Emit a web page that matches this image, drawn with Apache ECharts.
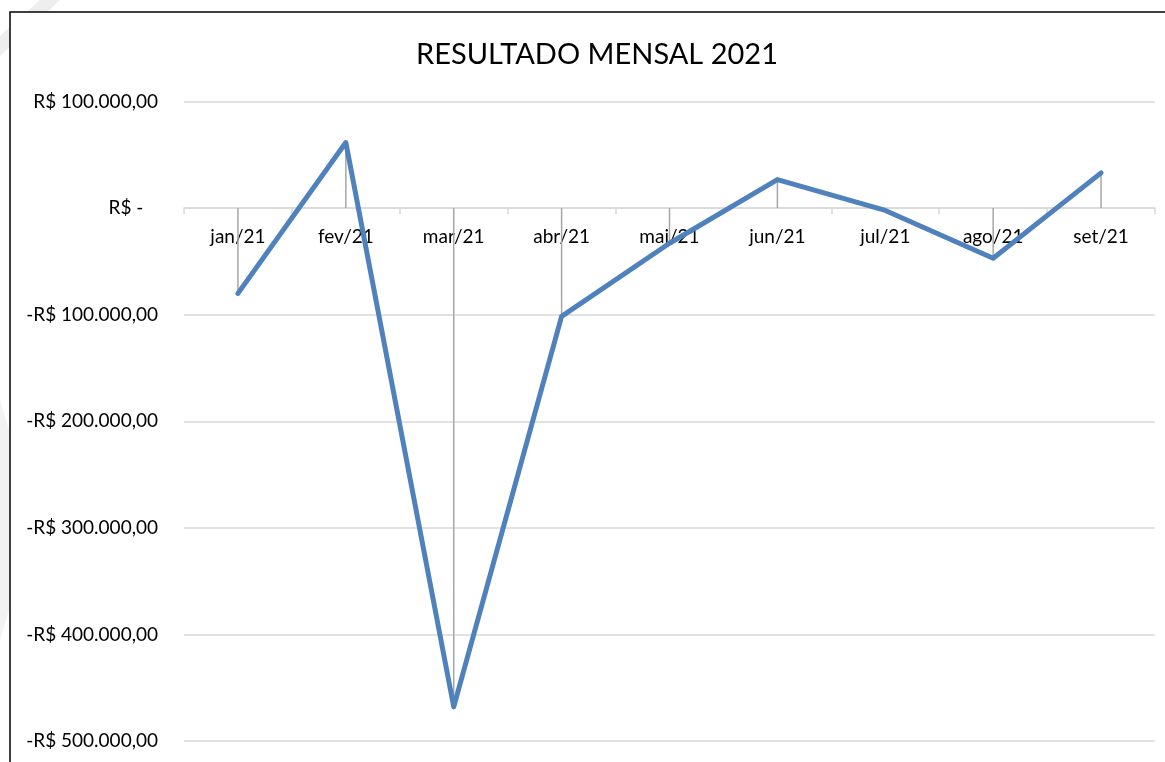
<!DOCTYPE html>
<html>
<head>
<meta charset="utf-8">
<title>Resultado Mensal 2021</title>
<script src="https://cdn.jsdelivr.net/npm/echarts@6/dist/echarts.min.js"></script>
<style>
  html, body { margin: 0; padding: 0; background: #fff; }
  #chart { width: 1165px; height: 762px; }
</style>
</head>
<body>
<div id="chart"></div>
<script>
const months = ['jan/21', 'fev/21', 'mar/21', 'abr/21', 'mai/21', 'jun/21', 'jul/21', 'ago/21', 'set/21']
const resultado = [-80000, 61500, -468000, -101600, -33000, 26700, -2200, -47000, 33000]
const yTicks = [100000, 0, -100000, -200000, -300000, -400000, -500000]

const font = 'Lato, "Open Sans", sans-serif'
const gridTop = 101.5

// formato contabil do Excel: R$ 100.000,00 / R$ - / -R$ 100.000,00
function brl(v) {
  if (v === 0) return 'R$ -   '
  const s = Math.abs(v).toFixed(2).replace('.', ',').replace(/\B(?=(\d{3})+(?!\d))/g, '.')
  return (v < 0 ? '-' : '') + 'R$ ' + s
}

const chart = echarts.init(document.getElementById('chart'))
chart.setOption({
  backgroundColor: '#fff',
  animation: false,
  graphic: [
    // faixas cinza do slide no canto esquerdo
    { type: 'polygon', z: -10, shape: { points: [[0, 56], [0, 36], [40, 0], [60, 0]] }, style: { fill: '#eeeeee' } },
    { type: 'polygon', z: -10, shape: { points: [[0, 400], [9, 430], [9, 610], [0, 640]] }, style: { fill: '#f2f2f2' } },
    { type: 'rect', z: -5, shape: { x: 10, y: 12, width: 1200, height: 800 }, style: { fill: '#fff', stroke: '#000', lineWidth: 1.5 } }
  ],
  title: {
    text: 'RESULTADO MENSAL 2021',
    left: 411,
    top: 35,
    textStyle: { fontFamily: font, fontSize: 29, fontWeight: 'normal', color: '#000' }
  },
  grid: { left: 184, right: 10, top: gridTop, bottom: 21, containLabel: false, outerBoundsMode: 'none' },
  xAxis: [
    {
      type: 'category',
      data: months,
      boundaryGap: true,
      axisLine: { onZero: true, lineStyle: { color: '#d9d9d9', width: 1.5 } },
      axisTick: { show: true, length: 6, lineStyle: { color: '#d9d9d9', width: 1.5 } },
      axisLabel: { show: false },
      splitLine: { show: false }
    },
    {
      // rotulos das categorias logo abaixo da linha do zero
      type: 'category',
      data: months,
      position: 'top',
      offset: 0,
      boundaryGap: true,
      axisLine: { show: false, onZero: false },
      axisTick: { show: false },
      axisLabel: { inside: true, margin: 19, fontFamily: font, fontSize: 19, color: '#000' },
      splitLine: { show: false }
    }
  ],
  yAxis: {
    type: 'value',
    min: yTicks[yTicks.length - 1],
    max: yTicks[0],
    interval: 100000,
    axisLine: { show: false },
    axisTick: { show: false },
    axisLabel: { margin: 26, fontFamily: font, fontSize: 19, color: '#000', formatter: brl },
    splitLine: { lineStyle: { color: '#d9d9d9', width: 1.5 } }
  },
  series: [
    {
      // linhas de projecao (drop lines)
      type: 'bar',
      data: resultado,
      barWidth: 1.5,
      itemStyle: { color: '#a6a6a6' },
      z: 1
    },
    {
      type: 'line',
      data: resultado,
      symbol: 'none',
      lineStyle: { color: '#4f81bd', width: 5, cap: 'round', join: 'round' },
      z: 3
    }
  ]
})

// desloca o eixo dos rotulos para a altura do zero
const zeroY = chart.convertToPixel({ yAxisIndex: 0 }, 0)
chart.setOption({ xAxis: [{}, { offset: -(zeroY - gridTop) }] })
</script>
</body>
</html>
